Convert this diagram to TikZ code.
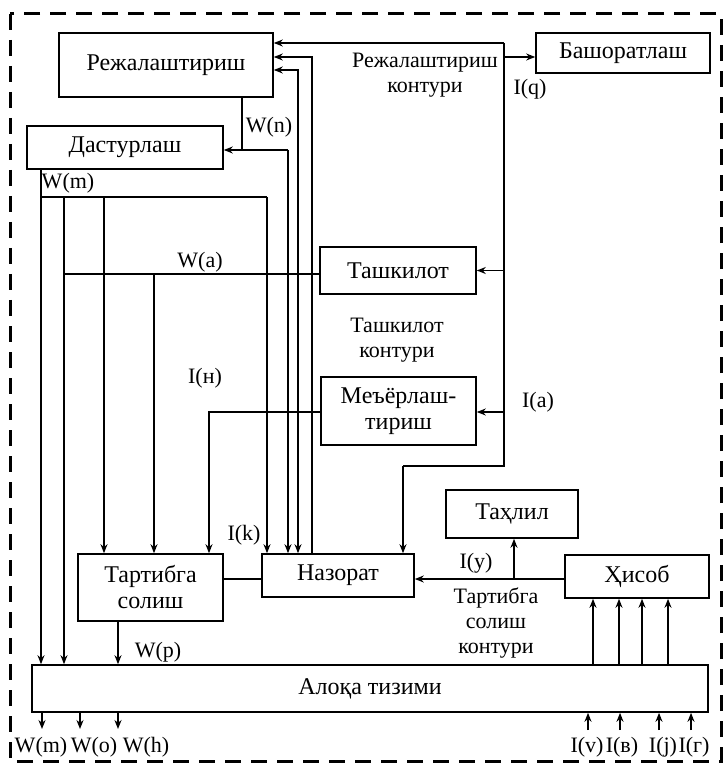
\documentclass[tikz,border=0pt]{standalone}
\usepackage{fontspec}
\setmainfont{Liberation Serif}
\usetikzlibrary{arrows.meta}
\tikzset{
  box/.style={draw, line width=0.8pt, inner sep=0pt, align=center, font=\fontsize{12}{13}\selectfont},
  lbl/.style={inner sep=0pt, align=center, font=\fontsize{11}{12.5}\selectfont},
  conn/.style={line width=0.8pt, -{Stealth[length=4.5pt,width=3.5pt]}},
  plain/.style={line width=0.8pt},
  both/.style={line width=0.8pt, {Stealth[length=4.5pt,width=3.5pt]}-{Stealth[length=4.5pt,width=3.5pt]}},
  frame/.style={line width=1.5pt, dash pattern=on 8pt off 5pt}
}
\begin{document}
\begin{tikzpicture}[x=0.5pt,y=-0.5pt]
\useasboundingbox (0,0) rectangle (725,764);
\draw[frame] (10,14) rectangle (721,761);

% boxes
\node[box, minimum width=107pt, minimum height=32pt] (rej) at (166,65) {Режалаштириш};
\node[box, minimum width=98pt, minimum height=21.5pt] (das) at (125,147.5) {Дастурлаш};
\node[box, minimum width=87pt, minimum height=20pt] (bash) at (623,53) {Башоратлаш};
\node[box, minimum width=78pt, minimum height=23.5pt] (tash) at (398,270.5) {Ташкилот};
\node[box, minimum width=77.5pt, minimum height=34pt] (meyor) at (398.5,411) {Меъёрлаш-\\тириш};
\node[box, minimum width=66pt, minimum height=24pt] (tahlil) at (512,514) {Таҳлил};
\node[box, minimum width=72pt, minimum height=21.5pt] (hisob) at (637,576.5) {Ҳисоб};
\node[box, minimum width=76pt, minimum height=21.5pt] (nazorat) at (338,575.5) {Назорат};
\node[box, minimum width=72.5pt, minimum height=33.5pt] (tartib) at (150.5,587.5) {Тартибга\\солиш};
\node[box, minimum width=338pt, minimum height=23.5pt] (aloqa) at (370,688.5) {Алоқа тизими};

% bus from Dasturlash
\coordinate (bL) at (41,197);
\coordinate (b2) at (64,197);
\coordinate (b3) at (104,197);
\coordinate (bR) at (267,197);
\draw[conn] (das.south -| bL) -- (aloqa.north -| bL);
\draw[plain] (bL) -- (bR);
\draw[conn] (b2) -- (aloqa.north -| b2);
\draw[conn] (b3) -- (tartib.north -| b3);
\draw[conn] (bR) -- (nazorat.north -| bR);

% W(a) from Tashkilot
\coordinate (a1) at (64,274);
\coordinate (a2) at (154,274);
\draw[plain] (tash.west |- a1) -- (a1);
\draw[conn] (a2) -- (tartib.north -| a2);

% from Meyorlashtirish
\coordinate (m1) at (209,412);
\draw[conn] (meyor.west |- m1) -- (m1) -- (tartib.north -| m1);

% W(n)
\coordinate (n1) at (242,150);
\coordinate (n2) at (288,150);
\draw[plain] (rej.south -| n1) -- (n1);
\draw[conn] (n2) -- (das.east |- n2);
\draw[conn] (n2) -- (nazorat.north -| n2);

% feedback to Rejalashtirish
\coordinate (r1) at (298,70);
\coordinate (r2) at (312,57);
\draw[both] (rej.east |- r1) -- (r1) -- (nazorat.north -| r1);
\draw[conn] (nazorat.north -| r2) -- (r2) -- (rej.east |- r2);

% right loop
\coordinate (r3) at (504,43);
\coordinate (r4) at (504,466);
\coordinate (r5) at (403,466);
\coordinate (r6) at (504,57);
\coordinate (r7) at (504,270.5);
\coordinate (r8) at (504,412);
\draw[conn] (r3) -- (rej.east |- r3);
\draw[plain] (r3) -- (r4) -- (r5);
\draw[conn] (r5) -- (nazorat.north -| r5);
\draw[conn] (r6) -- (bash.west |- r6);
\draw[conn] (r7) -- (tash.east |- r7);
\draw[conn] (r8) -- (meyor.east |- r8);

% Tartibga - Nazorat
\coordinate (tn) at (240,579);
\draw[plain] (tartib.east |- tn) -- (nazorat.west |- tn);

% Hisob -> Nazorat, Tahlil
\coordinate (h1) at (514,579);
\draw[conn] (hisob.west |- h1) -- (nazorat.east |- h1);
\draw[conn] (h1) -- (tahlil.south -| h1);

% Tartibga -> Aloqa
\coordinate (p1) at (118,640);
\draw[conn] (tartib.south -| p1) -- (aloqa.north -| p1);

% Aloqa -> Hisob
\foreach \x/\n in {593/u1,619/u2,642/u3,668/u4}{
  \coordinate (\n) at (\x,630);
  \draw[conn] (aloqa.north -| \n) -- (hisob.south -| \n);
}

% outputs
\foreach \x/\n in {42/o1,80/o2,118/o3}{
  \coordinate (\n) at (\x,729);
  \draw[conn] (aloqa.south -| \n) -- (\n);
}
% inputs
\foreach \x/\n in {588/i1,620/i2,659/i3,691/i4}{
  \coordinate (\n) at (\x,730);
  \draw[conn] (\n) -- (aloqa.south -| \n);
}

% labels
\node[lbl] (lrk) at (425,75) {Режалаштириш\\контури};
\node[lbl] (liq) at (530,89) {I(q)};
\node[lbl] (lwn) at (269,127) {W(n)};
\node[lbl] (lwm) at (68,183) {W(m)};
\node[lbl] (lwa) at (200,262) {W(a)};
\node[lbl] (ltk) at (397,340) {Ташкилот\\контури};
\node[lbl] (lin) at (205,378) {I(н)};
\node[lbl] (lia) at (538,402) {I(a)};
\node[lbl] (lik) at (244,535) {I(k)};
\node[lbl] (liy) at (476,563) {I(y)};
\node[lbl] (ltsk) at (496,623) {Тартибга\\солиш\\контури};
\node[lbl] (lwp) at (158,652) {W(p)};
\node[lbl] (lb1) at (41,747) {W(m)};
\node[lbl] (lb2) at (94,747) {W(o)};
\node[lbl] (lb3) at (146,747) {W(h)};
\node[lbl] (lb4) at (587,747) {I(v)};
\node[lbl] (lb5) at (622,747) {I(в)};
\node[lbl] (lb6) at (663,747) {I(j)};
\node[lbl] (lb7) at (694,747) {I(г)};
\end{tikzpicture}
\end{document}
